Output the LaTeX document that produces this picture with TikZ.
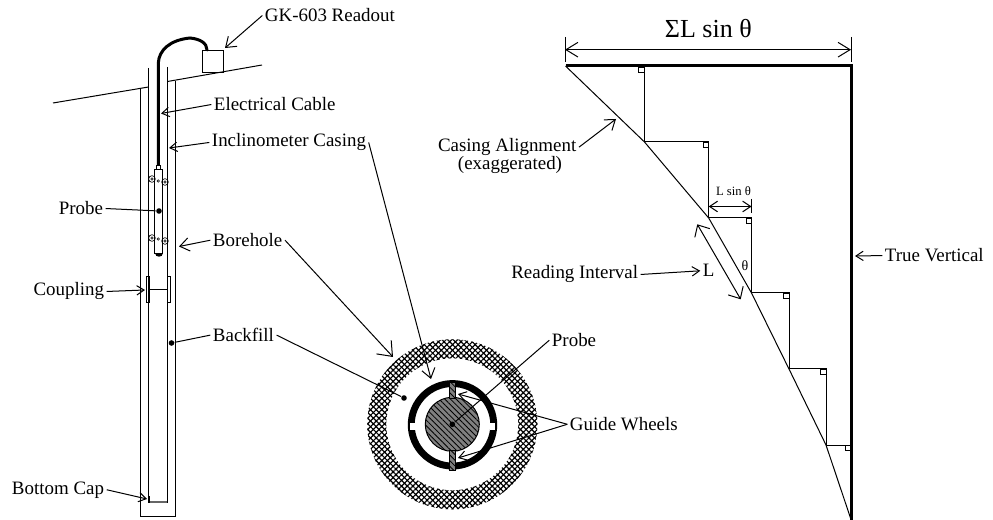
\documentclass[tikz,border=0pt]{standalone}
\usepackage{fontspec}
\setmainfont{Liberation Serif}
\usetikzlibrary{arrows.meta,patterns.meta}

\begin{document}
\begin{tikzpicture}[x=0.75pt,y=-0.75pt,line width=0.75pt,font=\fontsize{14.2}{16}\selectfont,
  >={Straight Barb[length=5.5pt,width=7pt]},
  lbl/.style={inner sep=0pt,outer sep=2pt,anchor=base west},
  mid/.style={->,>={Straight Barb[length=7pt,width=10pt]}},
  big/.style={->,>={Straight Barb[length=9.5pt,width=15pt]}},
  dim/.style={<->,>={Straight Barb[length=9pt,width=11pt]}},
  dimsm/.style={<->,>={Straight Barb[length=6pt,width=8pt]}},
  diml/.style={<->,>={Straight Barb[length=7pt,width=13pt]}},
  heavy/.style={line width=2.25pt},
  dot/.style={circle,fill=black,inner sep=0pt,minimum size=4.2pt},
  wheel/.style={draw,circle,inner sep=0pt,minimum size=5pt,line width=0.5pt},
  pin/.style={circle,draw,inner sep=0pt,minimum size=1.8pt,line width=0.4pt},
  xhatch/.style={pattern={Lines[angle=45,distance=3pt,line width=0.9pt]}},
  slant/.style={pattern={Lines[angle=-45,distance=3pt,line width=0.6pt]}}]
  \useasboundingbox (0,0) rectangle (993,520);

  \draw (53,103) -- (148.5,87);
  \draw (167.5,81.5) -- (262,65);
  \draw (140,88) -- (140,516) -- (175.5,516) -- (175.5,81);
  \draw (148.5,68) -- (148.5,503);
  \draw (167.5,67) -- (167.5,503);
  \draw[line width=1.2pt,black!60] (149,502) -- (167,502);
  \draw (149,496) -- (149,503);
  \draw (167,496) -- (167,503);
  \draw (146.5,277) rectangle (149,303);
  \draw (167,277) rectangle (170,303);
  \draw (148.5,289.5) -- (167.5,289.5);

  \node[draw,inner sep=0pt,minimum width=16pt,minimum height=16.5pt,anchor=north west] (box) at (202,50) {};
  \draw[heavy,line cap=round] (158.3,167) -- (158.3,63) .. controls (159,50) and (170,40) .. (190,38)
    .. controls (200,39) and (207,43) .. (207,50);
  \node[draw,fill=white,inner sep=0pt,minimum width=3pt,minimum height=2.5pt] (neck) at (158.3,167.5) {};
  \node[draw,fill=white,inner sep=0pt,minimum width=6.2pt,minimum height=63pt,anchor=north] (probe) at (158.5,169) {};
  \fill (154.5,253) .. controls (154.5,258.5) and (162.5,258.5) .. (162.5,253) -- cycle;
  \node[wheel] (w1) at (152,179) {};
  \node[wheel] (w2) at (165,182) {};
  \node[wheel] (w3) at (152,238) {};
  \node[wheel] (w4) at (165,241) {};
  \node[pin] (p1) at (158.3,181) {};
  \node[pin] (p2) at (158.3,239) {};
  \node[pin] at (w1) {};
  \node[pin] at (w2) {};
  \node[pin] at (w3) {};
  \node[pin] at (w4) {};
  \node[dot] (dotp) at (159,211) {};
  \node[dot] (dotb) at (171.5,343) {};

  \node[lbl] (read) at (262.3,22) {GK-603 Readout};
  \node[lbl] (cable) at (211.3,111) {Electrical Cable};
  \node[lbl] (incl) at (209.3,147) {Inclinometer Casing};
  \node[lbl] (bore) at (210.3,246.7) {Borehole};
  \node[lbl] (back) at (210.3,341.7) {Backfill};
  \node[lbl,anchor=base east] (prb) at (105.7,215) {Probe};
  \node[lbl,anchor=base east] (coup) at (106.7,296) {Coupling};
  \node[lbl,anchor=base east] (cap) at (106.7,494) {Bottom Cap};
  \node[lbl] (prb2) at (549.3,346.7) {Probe};
  \node[lbl] (guide) at (567.3,430.7) {Guide Wheels};

  \path[xhatch,even odd rule] (452.3,424.3) circle[radius=85] circle[radius=66];
  \path[pattern={Lines[angle=-45,distance=3pt,line width=0.9pt]},even odd rule] (452.3,424.3) circle[radius=85] circle[radius=66];
  \fill[even odd rule] (452.5,424.8) circle[radius=44.7] circle[radius=37.8];
  \fill[white] (410,422.7) rectangle (415.5,430);
  \fill[white] (489.5,422.7) rectangle (495,430);
  \filldraw[fill=black!50] (452.3,424.3) circle[radius=27];
  \path[slant] (452.3,424.3) circle[radius=27];
  \filldraw[fill=black!50,line width=0.4pt] (449.2,382.5) rectangle (455.5,398.5);
  \path[slant] (449.2,382.5) rectangle (455.5,398.5);
  \filldraw[fill=black!50,line width=0.4pt] (449.2,450) rectangle (455.5,470.5);
  \path[slant] (449.2,450) rectangle (455.5,470.5);
  \node[dot] (dotc) at (452.3,424.3) {};
  \node[dot] (dotf) at (404,398) {};

  \coordinate (t1) at (225,48);
  \coordinate (t2) at (161,113.5);
  \coordinate (t3) at (169,148);
  \coordinate (t4) at (431,379);
  \coordinate (t5) at (179,246.5);
  \coordinate (t6) at (393,357);
  \coordinate (t7) at (145,290);
  \coordinate (t8) at (147,499);
  \coordinate (t9) at (458,394);
  \coordinate (t10) at (458,458);
  \draw[mid] (read.west) -- (t1);
  \draw[->] (cable.west) -- (t2);
  \draw[->] (incl.west) -- (t3);
  \draw[mid] (incl.east) -- (t4);
  \draw[mid] (bore.west) -- (t5);
  \draw[big] (bore.east) -- (t6);
  \draw (back.west) -- (dotb);
  \draw (back.east) -- (dotf);
  \draw (prb.east) -- (dotp);
  \draw[->] (coup.east) -- (t7);
  \draw[->] (cap.east) -- (t8);
  \draw (prb2.west) -- (dotc);
  \draw[->] (guide.west) -- (t9);
  \draw[->] (guide.west) -- (t10);

  \coordinate (a) at (565.5,66);
  \coordinate (b) at (644.5,142);
  \coordinate (c) at (708.7,218);
  \coordinate (d) at (751.5,293);
  \coordinate (e) at (789,369);
  \coordinate (f) at (826,445);
  \coordinate (g) at (850.5,518);
  \draw[heavy] (a) -- (851,66) -- (851,520);
  \draw (a) -- (b) -- (c) -- (d) -- (e) -- (f) -- (g);
  \draw (644.5,66) -- (b) -- (708.7,142) -- (c) -- (751.5,218) -- (d) -- (789,293) -- (e) -- (826,369) -- (f) -- (851,445);
  \draw[line width=0.5pt] (638.5,67) rectangle (644.5,72);
  \draw[line width=0.5pt] (703,142) rectangle (708.7,147);
  \draw[line width=0.5pt] (746,218) rectangle (751.5,223);
  \draw[line width=0.5pt] (783,293) rectangle (789,298);
  \draw[line width=0.5pt] (820.5,369) rectangle (826,374);
  \draw[line width=0.5pt] (845,445) rectangle (850,450);

  \draw (565,37) -- (565,62);
  \draw (851,37) -- (851,62);
  \draw[dim] (565,49.7) -- (851,49.7);
  \node[lbl,font=\fontsize{19.5}{21}\selectfont] (sum) at (662.3,38) {ΣL sin θ};
  \draw (751.5,199) -- (751.5,213);
  \draw[dimsm] (708.7,206.5) -- (751.5,206.5);
  \node[lbl,anchor=base,font=\fontsize{9.5}{11}\selectfont] (lsin) at (733.5,196) {L sin θ};
  \node[lbl,anchor=base,font=\fontsize{10.5}{12}\selectfont] (th) at (745,270.7) {θ};
  \draw[diml] (697.3,224.3) -- (740.7,299.3);
  \node[lbl] (ell) at (700.3,277) {L};
  \node[lbl,anchor=base east] (intv) at (640.7,279) {Reading Interval};
  \draw[->] (intv.east) -- (ell.west);
  \node[lbl,anchor=base east] (align) at (579,151.7) {Casing Alignment};
  \node[lbl,anchor=base] (exag) at (510,170) {(exaggerated)};
  \coordinate (t11) at (616,119);
  \draw[mid] (align.east) -- (t11);
  \node[lbl] (vert) at (882.3,262) {True Vertical};
  \coordinate (t12) at (855,256);
  \draw[->] (vert.west) -- (t12);
\end{tikzpicture}
\end{document}
